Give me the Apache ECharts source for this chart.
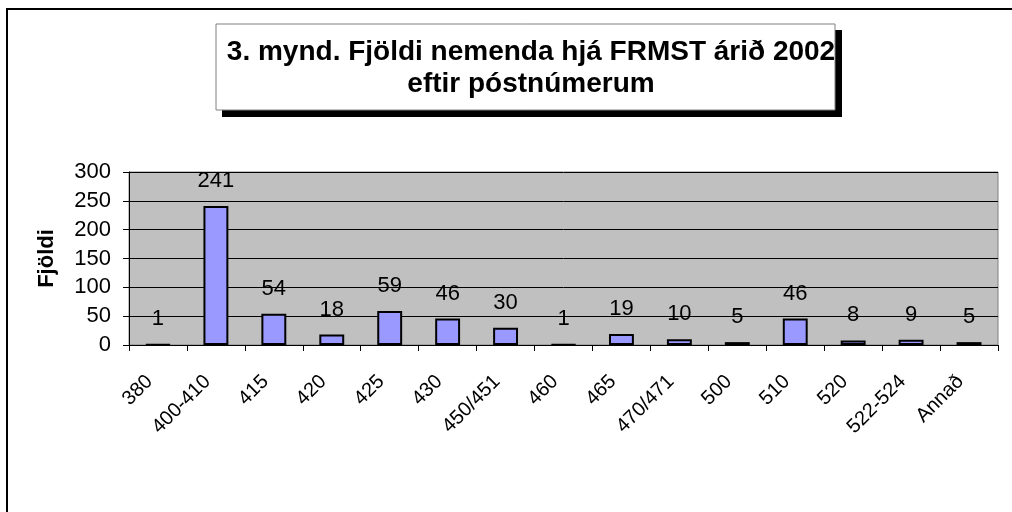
<!DOCTYPE html>
<html>
<head>
<meta charset="utf-8">
<script src="https://cdn.jsdelivr.net/npm/echarts@6/dist/echarts.min.js"></script>
<style>
  html, body { margin: 0; padding: 0; background: #fff; }
  #chart { width: 1012px; height: 512px; }
</style>
</head>
<body>
<div id="chart"></div>
<script>
// póstnúmer og fjöldi nemenda
var categories = ['380', '400-410', '415', '420', '425', '430', '450/451', '460',
  '465', '470/471', '500', '510', '520', '522-524', 'Annað'];
var counts = [1, 241, 54, 18, 59, 46, 30, 1, 19, 10, 5, 46, 8, 9, 5];
var yTicks = [0, 50, 100, 150, 200, 250, 300];

var titleLines = ['3. mynd. Fjöldi nemenda hjá FRMST árið 2002', 'eftir póstnúmerum'];

var chart = echarts.init(document.getElementById('chart'));
var font = 'Liberation Sans, Arial, sans-serif';

var option = {
  animation: false,
  backgroundColor: '#fff',
  textStyle: { fontFamily: font },
  title: {
    text: titleLines.join('\n'),
    left: 526,
    top: 31,
    textAlign: 'center',
    textStyle: { fontSize: 28, fontWeight: 'bold', color: '#000', lineHeight: 32, fontFamily: font }
  },
  graphic: [
    // outer frame
    { type: 'rect', shape: { x: 7, y: 9, width: 1030, height: 530 },
      style: { fill: 'none', stroke: '#000', lineWidth: 2 }, z: 0 },
    // title box + shadow
    { type: 'rect', shape: { x: 222, y: 30, width: 620, height: 87 },
      style: { fill: '#000' }, z: 0 },
    { type: 'rect', shape: { x: 216, y: 24, width: 619, height: 86 },
      style: { fill: '#fff', stroke: '#808080', lineWidth: 1 }, z: 1 }
  ],
  grid: {
    left: 129, right: 14, top: 172, bottom: 167,
    show: true, backgroundColor: '#c0c0c0', borderColor: '#808080', borderWidth: 1
  },
  xAxis: {
    type: 'category',
    data: categories,
    axisLine: { lineStyle: { color: '#000', width: 1 } },
    axisTick: { show: true, length: 6, lineStyle: { color: '#000' } },
    axisLabel: {
      rotate: 45, fontSize: 20, color: '#000', margin: 25, interval: 0,
      padding: [0, 12, 0, 0], fontFamily: font
    }
  },
  yAxis: {
    type: 'value',
    min: yTicks[0],
    max: yTicks[yTicks.length - 1],
    interval: 50,
    name: 'Fjöldi',
    nameLocation: 'middle',
    nameGap: 71,
    nameTextStyle: { fontSize: 22, fontWeight: 'bold', color: '#000', fontFamily: font },
    axisLine: { show: true, lineStyle: { color: '#000' } },
    axisTick: { show: true, length: 6, lineStyle: { color: '#000' } },
    axisLabel: { fontSize: 22, color: '#000', margin: 18, fontFamily: font },
    splitLine: { show: true, lineStyle: { color: '#000', width: 1 } }
  },
  series: [{
    type: 'bar',
    data: counts,
    barWidth: '43%',
    itemStyle: { color: '#9999ff', borderColor: '#000', borderWidth: 2 },
    label: {
      show: true, position: 'top', distance: 14,
      fontSize: 22, color: '#000', fontFamily: font
    }
  }]
};

chart.setOption(option);
</script>
</body>
</html>
